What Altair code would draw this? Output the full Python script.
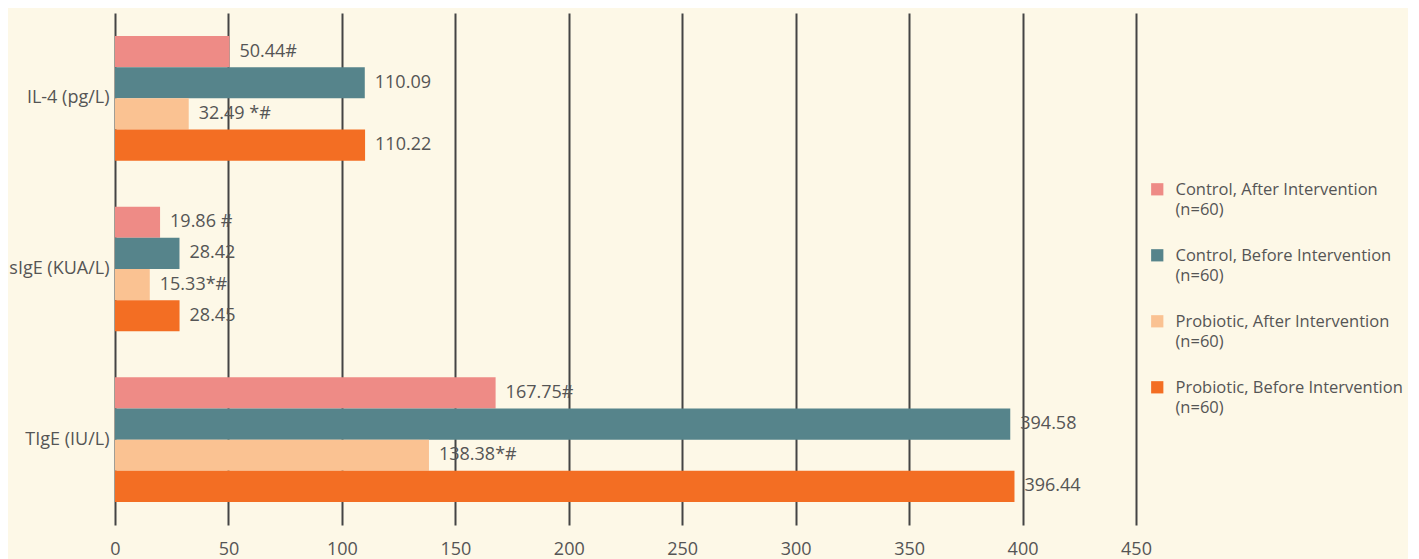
import altair as alt
import pandas as pd

markers = ["IL-4 (pg/L)", "sIgE (KUA/L)", "TIgE (IU/L)"]
series = [
    "Control, After Intervention|(n=60)",
    "Control, Before Intervention|(n=60)",
    "Probiotic, After Intervention|(n=60)",
    "Probiotic, Before Intervention|(n=60)",
]
colors = ["#EE8B86", "#56848B", "#FAC292", "#F36E23"]

control_after = [50.44, 19.86, 167.75]
control_before = [110.09, 28.42, 394.58]
probiotic_after = [32.49, 15.33, 138.38]
probiotic_before = [110.22, 28.45, 396.44]

control_after_lbl = ["50.44#", "19.86 #", "167.75#"]
control_before_lbl = ["110.09", "28.42", "394.58"]
probiotic_after_lbl = ["32.49 *#", "15.33*#", "138.38*#"]
probiotic_before_lbl = ["110.22", "28.45", "396.44"]

x_ticks = [0, 50, 100, 150, 200, 250, 300, 350, 400, 450]

rows = []
for s, vals, lbls in zip(
    series,
    [control_after, control_before, probiotic_after, probiotic_before],
    [control_after_lbl, control_before_lbl, probiotic_after_lbl, probiotic_before_lbl],
):
    for m, v, l in zip(markers, vals, lbls):
        rows.append({"marker": m, "series": s, "value": v, "label": l})
df = pd.DataFrame(rows)

FONT = "Open Sans"
TXT = "#555555"

y_enc = alt.Y(
    "marker:N",
    sort=markers,
    title=None,
    scale=alt.Scale(paddingInner=0.27, paddingOuter=0.135),
    axis=alt.Axis(
        ticks=False, domain=False, labelFontSize=18, labelColor=TXT,
        labelFont=FONT, labelPadding=6, minExtent=106, maxExtent=106,
    ),
)
yoff = alt.YOffset("series:N", sort=series, scale=alt.Scale(paddingInner=0, paddingOuter=0))
x_enc = alt.X(
    "value:Q",
    title=None,
    scale=alt.Scale(domain=[0, 450], nice=False),
    axis=alt.Axis(
        values=x_ticks, grid=True, gridColor="#444444", gridWidth=2, gridOpacity=1,
        ticks=False, domain=False, labelFontSize=18, labelColor=TXT, labelFont=FONT,
        labelPadding=15, labelFlush=False,
    ),
)

bars = alt.Chart(df).mark_bar().encode(
    x=x_enc,
    y=y_enc,
    yOffset=yoff,
    color=alt.Color(
        "series:N",
        sort=series,
        scale=alt.Scale(domain=series, range=colors),
        legend=alt.Legend(
            title=None, orient="none", legendX=1034, legendY=161,
            symbolType="M-1,0.15H1V2.15H-1Z", symbolSize=150, symbolStrokeWidth=0,
            labelFontSize=16.5, labelColor=TXT, labelFont=FONT, labelLimit=400,
            labelExpr="split(datum.label, '|')", rowPadding=21, labelOffset=10,
            labelBaseline="top", padding=0,
        ),
    ),
)

text = alt.Chart(df).mark_text(
    align="left", baseline="middle", dx=10, fontSize=18, font=FONT, color=TXT
).encode(
    x=alt.X("value:Q"),
    y=alt.Y("marker:N", sort=markers),
    yOffset=alt.YOffset("series:N", sort=series),
    text="label:N",
)

chart = (
    alt.layer(bars, text)
    .properties(width=1021, height=512, background="#FDF8E7", padding={"left": 0, "top": 5, "right": 5, "bottom": 5})
    .configure(style={"guide-label": {"lineHeight": 20}})
    .configure_view(strokeWidth=0)
)

chart.save("out.html", embed_options={"renderer": "svg", "actions": False})
